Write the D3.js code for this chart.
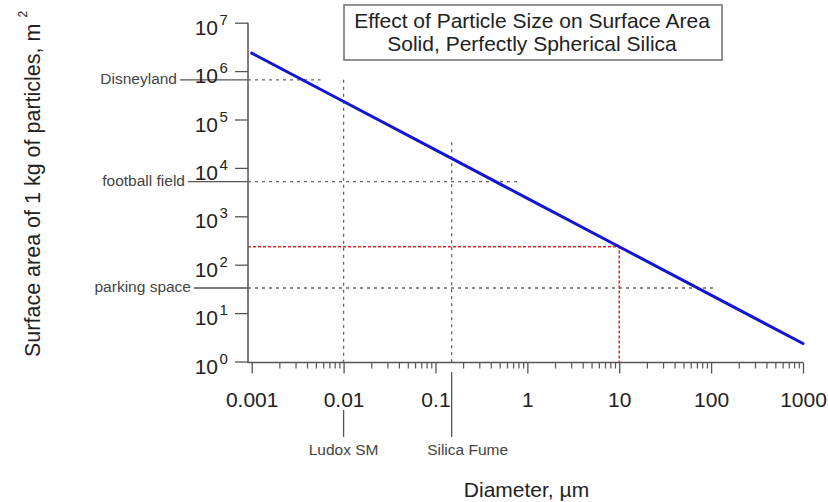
<!DOCTYPE html>
<html>
<head>
<meta charset="utf-8">
<script src="https://cdn.jsdelivr.net/npm/d3@7"></script>
<style>
  html, body { margin: 0; padding: 0; background: #fff; }
  svg { display: block; font-family: "Liberation Sans", Arial, sans-serif; }
</style>
</head>
<body>
<script>
// Specific surface area of solid silica spheres vs. diameter (m^2 per kg)
const diameters   = [0.001, 0.01, 0.1, 1, 10, 100, 1000];           // µm
const surfaceArea = [2.35e6, 2.35e5, 2.35e4, 2350, 235, 23.5, 2.35]; // m^2 / kg

const xTickLabels    = ["0.001", "0.01", "0.1", "1", "10", "100", "1000"];
const yTickExponents = [0, 1, 2, 3, 4, 5, 6, 7];

// Everyday areas for comparison (horizontal guides)
const refNames = ["Disneyland", "football field", "parking space"];
const refAreas = [6.6e5, 5200, 33];        // m^2
const refReach = [0.0056, 0.79, 110];      // diameter where each guide stops, µm

// Commercial particle sizes (vertical guides)
const productNames    = ["Ludox SM", "Silica Fume"];
const productDiameter = [0.01, 0.15];      // µm
const productGuideTop = [6.6e5, 3.4e4];    // m^2, upper end of dotted guide

// Highlighted point: 10 µm particles
const markedDiameter = [10];
const markedArea     = [235];

const W = 828, H = 502;
const svg = d3.select("body").append("svg").attr("width", W).attr("height", H);

const x = d3.scaleLog().domain([0.001, 1000]).range([251.7, 803]);
const y = d3.scaleLog().domain([1, 1e7]).range([361.5, 22.7]);

const axisLeftX = 248, axisBottomY = 362.5;
const axisColor = "#555";
const textColor = "#222";
const noteColor = "#444";

// ---- guides (drawn below the curve) ----
const guides = svg.append("g");

refNames.forEach((name, i) => {
  const yy = y(refAreas[i]);
  const labelRight = [177, 185, 191][i];
  guides.append("line")
    .attr("x1", labelRight + 3).attr("x2", axisLeftX)
    .attr("y1", yy).attr("y2", yy)
    .attr("stroke", "#555").attr("stroke-width", 1.3);
  guides.append("line")
    .attr("x1", axisLeftX).attr("x2", x(refReach[i]))
    .attr("y1", yy).attr("y2", yy)
    .attr("stroke", "#666").attr("stroke-width", 1.3)
    .attr("stroke-dasharray", "3,4");
  svg.append("text")
    .attr("x", labelRight).attr("y", yy + 4)
    .attr("text-anchor", "end")
    .attr("font-size", 15.5).attr("fill", noteColor)
    .text(name);
});

productNames.forEach((name, i) => {
  const xx = x(productDiameter[i]);
  guides.append("line")
    .attr("x1", xx).attr("x2", xx)
    .attr("y1", y(productGuideTop[i])).attr("y2", axisBottomY)
    .attr("stroke", "#666").attr("stroke-width", 1.3)
    .attr("stroke-dasharray", "3,4");
  guides.append("line")
    .attr("x1", xx).attr("x2", xx)
    .attr("y1", i === 0 ? 410 : 372).attr("y2", 437)
    .attr("stroke", "#555").attr("stroke-width", 1.3);
  svg.append("text")
    .attr("x", i === 0 ? xx : xx - 24.5).attr("y", 455)
    .attr("text-anchor", i === 0 ? "middle" : "start")
    .attr("font-size", 15.5).attr("fill", noteColor)
    .text(name);
});

markedDiameter.forEach((d, i) => {
  const xx = x(d), yy = y(markedArea[i]);
  guides.append("path")
    .attr("d", `M${axisLeftX},${yy}H${xx}V${axisBottomY}`)
    .attr("fill", "none")
    .attr("stroke", "#e02828").attr("stroke-width", 1.5)
    .attr("stroke-dasharray", "3,2");
});

// ---- axes ----
const gx = svg.append("g").attr("transform", `translate(0,${axisBottomY})`)
  .call(d3.axisBottom(x).tickValues(diameters).tickSize(11)
    .tickFormat((d, i) => xTickLabels[i]));
gx.select(".domain").remove();
gx.selectAll("line").attr("stroke", axisColor).attr("stroke-width", 1.3);
gx.selectAll("text").attr("y", 30).attr("font-size", 21)
  .attr("font-family", "Liberation Sans, Arial, sans-serif").attr("fill", textColor);

const minor = x.ticks().filter(v => !diameters.some(d => Math.abs(d / v - 1) < 1e-6));
const gxm = svg.append("g").attr("transform", `translate(0,${axisBottomY})`)
  .call(d3.axisBottom(x).tickValues(minor).tickSize(6).tickFormat(""));
gxm.select(".domain").remove();
gxm.selectAll("line").attr("stroke", axisColor).attr("stroke-width", 1.2);

const gy = svg.append("g").attr("transform", `translate(${axisLeftX},0)`)
  .call(d3.axisLeft(y).tickValues(yTickExponents.map(e => Math.pow(10, e)))
    .tickSize(13).tickFormat(""));
gy.select(".domain").remove();
gy.selectAll("line").attr("stroke", axisColor).attr("stroke-width", 1.3);

yTickExponents.forEach(e => {
  const yy = y(Math.pow(10, e));
  svg.append("text")
    .attr("x", 218).attr("y", yy + 12)
    .attr("text-anchor", "end").attr("font-size", 21).attr("fill", textColor)
    .text("10");
  svg.append("text")
    .attr("x", 219.5).attr("y", yy + 2)
    .attr("font-size", 15).attr("fill", textColor)
    .text(e);
});

svg.append("path")
  .attr("d", `M${axisLeftX},${y(1e7)}V${axisBottomY}H${x(1000)}`)
  .attr("fill", "none").attr("stroke", axisColor).attr("stroke-width", 1.5);

// ---- data curve ----
const pts = diameters.map((d, i) => ({ d, a: surfaceArea[i] }));
svg.append("path")
  .datum(pts)
  .attr("d", d3.line().x(p => x(p.d)).y(p => y(p.a)))
  .attr("fill", "none").attr("stroke", "#1414d4").attr("stroke-width", 3)
  .attr("stroke-linecap", "round");

// ---- axis titles ----
svg.append("text")
  .attr("x", 526.5).attr("y", 497)
  .attr("text-anchor", "middle").attr("font-size", 21).attr("fill", textColor)
  .text("Diameter, µm");

const yTitle = svg.append("text")
  .attr("transform", "translate(40,357) rotate(-90)")
  .attr("font-size", 21.5).attr("fill", textColor);
yTitle.append("tspan").text("Surface area of 1 kg of particles, m");
yTitle.append("tspan").attr("dx", 6).attr("dy", -13).attr("font-size", 12).text("2");

// ---- chart title box ----
svg.append("rect")
  .attr("x", 344).attr("y", 5).attr("width", 378).attr("height", 55)
  .attr("fill", "#fff").attr("stroke", "#777").attr("stroke-width", 1.6);
const titleLines = ["Effect of Particle Size on Surface Area", "Solid, Perfectly Spherical Silica"];
titleLines.forEach((t, i) => {
  svg.append("text")
    .attr("x", 532).attr("y", 27.5 + i * 23)
    .attr("text-anchor", "middle").attr("font-size", 21).attr("fill", textColor)
    .text(t);
});
</script>
</body>
</html>
